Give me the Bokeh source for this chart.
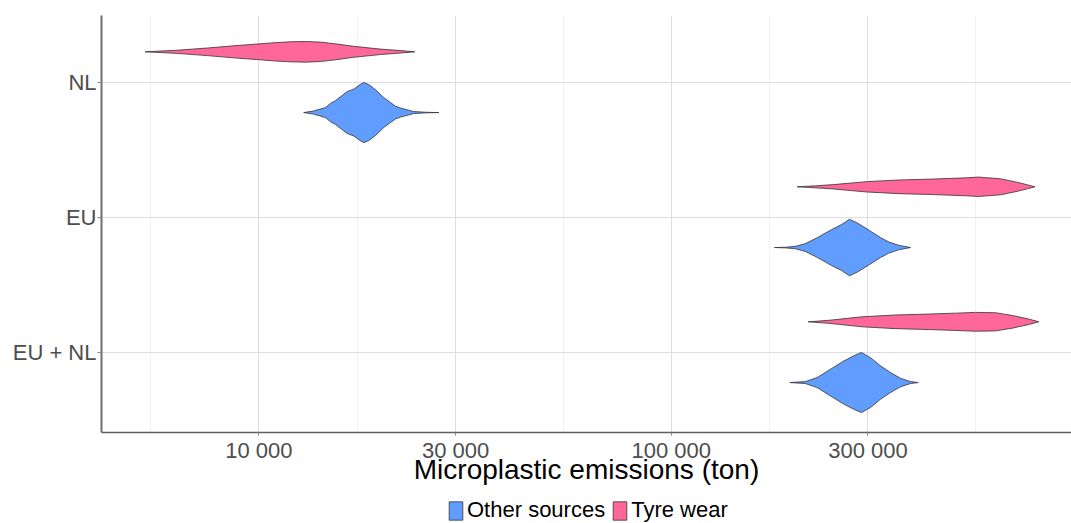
from bokeh.plotting import figure
from bokeh.layouts import column
from bokeh.models import FixedTicker, Legend, LegendItem, Range1d, ColumnDataSource
from bokeh.embed import file_html
from bokeh.resources import INLINE

# ---- data ----
categories = ["EU + NL", "EU", "NL"]          # bottom -> top
groups = ["Other sources", "Tyre wear"]
colors = {"Other sources": "#619CFF", "Tyre wear": "#FF6699"}

x_ticks = [10000, 30000, 100000, 300000]
x_tick_labels = ["10 000", "30 000", "100 000", "300 000"]
x_minor = [5477, 17321, 54772, 173205, 547723]

# emission values (ton) along each violin outline, and relative density (peak of all = 1)
nl_tyre_x = [5300, 6300, 7500, 9000, 9900, 10900, 11900, 13000, 14100, 15300, 17000, 19700, 22100, 23900]
nl_tyre_d = [0, 0.05, 0.125, 0.215, 0.255, 0.30, 0.33, 0.34, 0.32, 0.265, 0.18, 0.09, 0.04, 0]

nl_other_x = [12850, 13570, 14510, 14920, 15350, 16380, 16990, 17640, 17970, 18480, 19190, 20100, 20860, 21450, 22060, 23720, 25370, 27330]
nl_other_d = [0, 0.05, 0.165, 0.30, 0.395, 0.69, 0.77, 0.93, 0.99, 0.92, 0.755, 0.49, 0.33, 0.21, 0.15, 0.035, 0.01, 0]

eu_tyre_x = [202080, 223820, 247550, 297600, 355840, 430120, 517000, 556370, 628640, 695350, 762430]
eu_tyre_d = [0, 0.033, 0.072, 0.17, 0.225, 0.255, 0.295, 0.32, 0.265, 0.14, 0]

eu_other_x = [177990, 189300, 200130, 211660, 226370, 244780, 258820, 270640, 283010, 302650, 321710, 336410, 355840, 380550]
eu_other_d = [0, 0.01, 0.04, 0.13, 0.33, 0.59, 0.755, 0.93, 0.805, 0.56, 0.33, 0.19, 0.075, 0]

eunl_tyre_x = [214840, 241150, 290480, 349900, 421300, 489100, 547100, 611370, 671300, 736400, 778740]
eunl_tyre_d = [0, 0.05, 0.165, 0.225, 0.255, 0.285, 0.31, 0.30, 0.21, 0.09, 0]

eunl_other_x = [193890, 211660, 225940, 243430, 262130, 277200, 289320, 304330, 321710, 340230, 359750, 380550, 397210]
eunl_other_d = [0, 0.033, 0.165, 0.44, 0.71, 0.88, 0.99, 0.82, 0.55, 0.33, 0.14, 0.033, 0]

violins = {
    ("NL", "Tyre wear"): (nl_tyre_x, nl_tyre_d),
    ("NL", "Other sources"): (nl_other_x, nl_other_d),
    ("EU", "Tyre wear"): (eu_tyre_x, eu_tyre_d),
    ("EU", "Other sources"): (eu_other_x, eu_other_d),
    ("EU + NL", "Tyre wear"): (eunl_tyre_x, eunl_tyre_d),
    ("EU + NL", "Other sources"): (eunl_other_x, eunl_other_d),
}

DODGE = 0.225
HALF = 0.225
offsets = {"Tyre wear": DODGE, "Other sources": -DODGE}

FONT = "Liberation Sans"
OUTLINE = "#333333"

p = figure(width=1071, height=497, x_axis_type="log",
           x_range=Range1d(4155, 934800), y_range=Range1d(0.405, 3.494),
           output_backend="svg", toolbar_location=None,
           min_border_left=101, min_border_right=0, min_border_top=15, min_border_bottom=65)
p.outline_line_color = None
p.background_fill_color = "white"
p.border_fill_color = "white"

for g in groups:
    xs, ys = [], []
    for cat in categories:
        vx, vd = violins[(cat, g)]
        c = categories.index(cat) + 1 + offsets[g]
        xs.append(list(vx) + list(reversed(vx)))
        ys.append([c + d * HALF for d in vd] + [c - d * HALF for d in reversed(vd)])
    src = ColumnDataSource(dict(xs=xs, ys=ys))
    p.patches("xs", "ys", source=src, fill_color=colors[g],
              line_color=OUTLINE, line_width=0.8)

# x axis
xa = p.xaxis[0]
xa.ticker = FixedTicker(ticks=x_ticks, minor_ticks=x_minor)
xa.major_label_overrides = {t: l for t, l in zip(x_ticks, x_tick_labels)}
xa.axis_label = "Microplastic emissions (ton)"
xa.axis_label_text_font = FONT
xa.axis_label_text_font_size = "28px"
xa.axis_label_text_font_style = "normal"
xa.axis_label_text_color = "black"
xa.axis_label_standoff = -12
xa.major_label_text_font = FONT
xa.major_label_text_font_size = "22px"
xa.major_label_text_color = "#4D4D4D"
xa.major_label_standoff = 2
xa.major_tick_out = 3
xa.major_tick_in = 0
xa.minor_tick_out = 0
xa.minor_tick_in = 0
xa.major_tick_line_color = "#8a8a8a"
xa.axis_line_color = "#5f5f5f"
xa.axis_line_width = 1.5

# y axis
ya = p.yaxis[0]
ya.ticker = FixedTicker(ticks=[1, 2, 3])
ya.major_label_overrides = {i + 1: c for i, c in enumerate(categories)}
ya.major_label_text_font = FONT
ya.major_label_text_font_size = "22px"
ya.major_label_text_color = "#4D4D4D"
ya.major_label_standoff = 1
ya.major_tick_out = 4
ya.major_tick_in = 0
ya.minor_tick_out = 0
ya.minor_tick_in = 0
ya.major_tick_line_color = "#8a8a8a"
ya.axis_line_color = "#6f6f6f"
ya.axis_line_width = 2

# grids
p.xgrid.grid_line_color = "#DEDEDE"
p.xgrid.grid_line_width = 1
p.xgrid.minor_grid_line_color = "#EBEBEB"
p.xgrid.minor_grid_line_width = 0.7
p.ygrid.grid_line_color = "#DEDEDE"
p.ygrid.grid_line_width = 1

# legend strip below the chart (keys drawn from off-screen swatches)
lf = figure(width=1071, height=26, x_range=Range1d(0, 1), y_range=Range1d(0, 1),
            output_backend="svg", toolbar_location=None,
            x_axis_location=None, y_axis_location=None,
            min_border_left=0, min_border_right=0, min_border_top=0, min_border_bottom=0)
lf.outline_line_color = None
lf.xgrid.visible = False
lf.ygrid.visible = False
items = []
for g in groups:
    r = lf.patches(xs=[[5, 6, 6]], ys=[[5, 5, 6]], fill_color=colors[g],
                   line_color=OUTLINE, line_width=0.8)
    items.append(LegendItem(label=g, renderers=[r]))
legend = Legend(items=items, orientation="horizontal", location=(346, 0),
                label_text_font=FONT, label_text_font_size="22px", label_text_color="black",
                glyph_width=17, glyph_height=23, label_standoff=3, spacing=6,
                padding=0, margin=0, border_line_alpha=0, background_fill_alpha=0)
lf.add_layout(legend, "center")

layout = column(p, lf, spacing=0)
open("out.html", "w").write(file_html(layout, INLINE))
